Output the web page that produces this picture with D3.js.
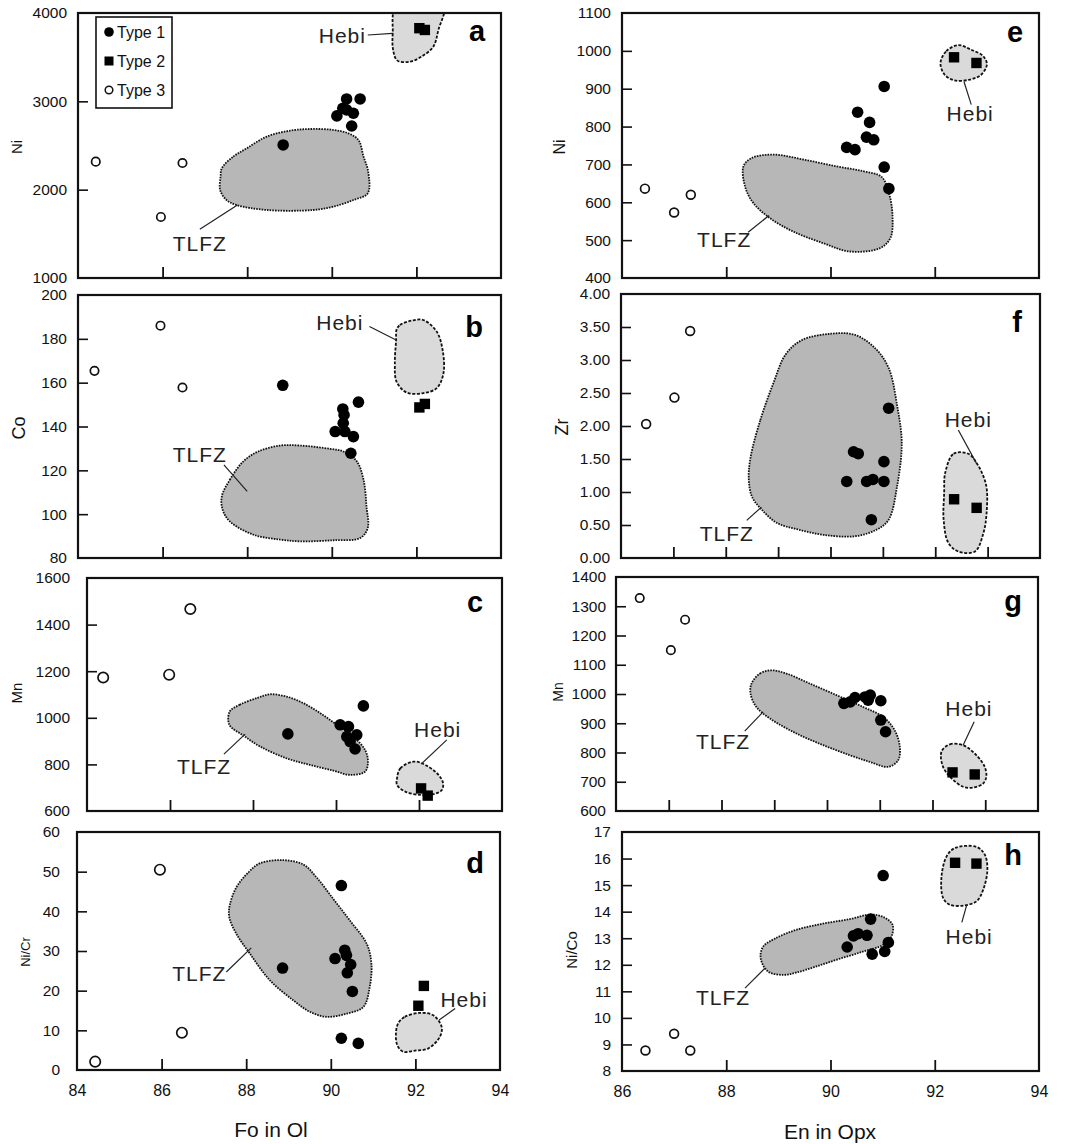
<!DOCTYPE html>
<html><head><meta charset="utf-8">
<script src="https://cdnjs.cloudflare.com/ajax/libs/d3/7.8.5/d3.min.js"></script>
<style>
body{margin:0;background:#fff;}
text{font-family:"Liberation Sans",Arial,Helvetica,sans-serif;fill:#111;}
</style>
</head><body>
<svg id="chart" width="1073" height="1144"></svg>
<script>
// ---------------- DATA ----------------
// x: Fo in Ol (a-d) / En in Opx (e-h)
// Panel a: Ni vs Fo
const aType1 = [[88.85,2506],[90.35,3027],[90.67,3027],[90.12,2835],[90.26,2921],[90.35,2903],[90.51,2865],[90.47,2721]];
const aType2 = [[92.07,3828],[92.20,3808]];
const aType3 = [[84.42,2317],[86.47,2302],[85.96,1691]];
const aTLFZ = [[87.40,2242],[87.67,2374],[87.99,2468],[88.46,2600],[89.01,2668],[89.52,2687],[90.04,2676],[90.39,2638],[90.63,2562],[90.75,2374],[90.86,2204],[90.85,1959],[90.51,1883],[90.04,1808],[89.56,1770],[88.46,1770],[87.75,1826],[87.51,1883],[87.36,1996],[87.37,2147]];
const aHebi = [[91.53,4080],[91.44,3770],[91.45,3581],[91.55,3461],[91.85,3449],[92.12,3506],[92.40,3619],[92.52,3808],[92.64,4080]];
const aNotes = [{text:"TLFZ",at:[86.88,1392],from:[86.88,1551],to:[87.77,1826]},{text:"Hebi",at:[90.25,3751],from:[90.85,3751],to:[91.44,3770]}];

// Panel b: Co vs Fo
const bType1 = [[88.84,158.8],[90.63,151.1],[90.26,148.0],[90.29,145.3],[90.27,141.5],[90.08,137.7],[90.31,137.7],[90.51,135.4],[90.45,127.8]];
const bType2 = [[92.07,148.7],[92.20,150.3]];
const bType3 = [[84.39,165.4],[85.95,186.0],[86.47,157.8]];
const bTLFZ = [[87.40,108.1],[87.59,115.7],[87.91,124.1],[88.26,128.6],[88.78,131.3],[89.25,131.3],[89.96,129.8],[90.27,128.6],[90.59,124.1],[90.75,115.7],[90.82,103.5],[90.85,93.7],[90.67,89.1],[90.04,88.1],[89.25,87.6],[88.78,88.4],[88.15,90.6],[87.59,96.7],[87.42,102.0]];
const bHebi = [[91.53,184.1],[91.61,186.3],[91.89,188.3],[92.16,188.6],[92.48,183.3],[92.62,174.9],[92.64,164.3],[92.48,157.5],[92.16,155.2],[91.77,155.5],[91.53,160.5],[91.49,168.9],[91.52,179.5]];
const bNotes = [{text:"TLFZ",at:[86.88,127.1],from:[87.45,122.5],to:[88.00,110.4]},{text:"Hebi",at:[90.19,187.4],from:[90.89,185.6],to:[91.52,179.5]}];

// Panel c: Mn vs Fo
const cType1 = [[88.84,931],[90.66,1051],[90.10,970],[90.30,962],[90.50,927],[90.26,919],[90.34,898],[90.46,866]];
const cType2 = [[92.05,697],[92.21,666]];
const cType3 = [[84.39,1173],[85.98,1185],[86.49,1467]];
const cTLFZ = [[87.44,1027],[87.68,1056],[88.13,1087],[88.41,1101],[88.81,1091],[89.21,1063],[89.62,1020],[90.02,970],[90.42,919],[90.70,862],[90.77,812],[90.70,769],[90.34,755],[89.94,773],[89.37,798],[88.81,826],[88.17,877],[87.77,924],[87.43,970]];
const cHebi = [[91.47,740],[91.55,783],[91.87,812],[92.15,798],[92.47,755],[92.58,719],[92.55,690],[92.35,672],[92.03,669],[91.67,683],[91.47,712]];
const cNotes = [{text:"TLFZ",at:[86.82,793],from:[87.30,844],to:[87.81,930]},{text:"Hebi",at:[92.45,951],from:[92.67,905],to:[92.05,801]}];

// Panel d: Ni/Cr vs Fo
const dType1 = [[88.86,25.7],[90.25,46.5],[90.10,28.1],[90.33,30.2],[90.37,28.9],[90.47,26.6],[90.39,24.5],[90.51,19.8],[90.25,8.0],[90.65,6.7]];
const dType2 = [[92.20,21.2],[92.07,16.2]];
const dType3 = [[85.96,50.5],[86.48,9.4],[84.43,2.1]];
const dTLFZ = [[87.61,41.5],[87.77,46.1],[88.05,49.8],[88.32,52.1],[88.87,52.9],[89.35,51.8],[89.66,48.6],[90.06,43.1],[90.45,37.7],[90.85,31.8],[90.96,26.8],[90.92,20.9],[90.77,15.9],[90.37,14.2],[89.90,13.4],[89.50,14.7],[89.11,17.6],[88.56,22.6],[88.09,29.3],[87.77,34.3],[87.60,38.5]];
const dHebi = [[91.59,11.7],[91.75,13.4],[92.11,14.4],[92.42,13.8],[92.62,10.9],[92.58,8.4],[92.30,5.4],[91.99,4.9],[91.71,4.6],[91.57,6.3],[91.54,9.2]];
const dNotes = [{text:"TLFZ",at:[86.89,24.3],from:[87.53,24.7],to:[88.12,30.8]},{text:"Hebi",at:[93.15,17.8],from:[92.94,15.5],to:[92.56,12.6]}];

// Panel e: Ni vs En
const eType1 = [[91.03,906],[90.52,838],[90.75,811],[90.69,772],[90.83,765],[90.31,745],[90.47,739],[91.03,693],[91.12,636]];
const eType2 = [[92.37,983],[92.80,968]];
const eType3 = [[86.44,636],[87.00,573],[87.32,620]];
const eTLFZ = [[88.33,695],[88.49,717],[88.90,726],[89.48,713],[90.11,695],[90.63,682],[90.98,667],[91.12,625],[91.19,563],[91.15,506],[90.95,479],[90.37,470],[89.86,492],[89.28,523],[88.84,558],[88.52,598],[88.36,642]];
const eHebi = [[92.11,968],[92.22,999],[92.45,1015],[92.70,1003],[92.93,986],[93.00,964],[92.89,937],[92.67,924],[92.38,922],[92.19,937]];
const eNotes = [{text:"TLFZ",at:[87.96,501],from:[88.42,521],to:[88.82,565]},{text:"Hebi",at:[92.68,836],from:[92.70,858],to:[92.56,919]}];

// Panel f: Zr vs En
const fType1 = [[91.11,2.27],[90.44,1.61],[90.53,1.58],[90.31,1.16],[90.69,1.16],[90.81,1.19],[91.02,1.46],[91.02,1.16],[90.78,0.58]];
const fType2 = [[92.36,0.89],[92.79,0.76]];
const fType3 = [[86.48,2.03],[87.02,2.43],[87.32,3.44]];
const fTLFZ = [[88.47,1.51],[88.66,2.09],[88.91,2.65],[89.14,3.08],[89.45,3.30],[90.03,3.40],[90.47,3.38],[90.85,3.18],[91.11,2.88],[91.27,2.32],[91.36,1.74],[91.27,1.08],[91.11,0.58],[90.88,0.43],[90.47,0.33],[89.87,0.35],[89.39,0.43],[88.98,0.53],[88.69,0.73],[88.50,0.93],[88.44,1.19]];
const fHebi = [[92.19,1.29],[92.35,1.58],[92.63,1.58],[92.79,1.44],[92.97,1.11],[92.98,0.68],[92.92,0.38],[92.76,0.10],[92.44,0.10],[92.25,0.23],[92.16,0.58],[92.17,0.98]];
const fNotes = [{text:"TLFZ",at:[88.02,0.37],from:[88.40,0.57],to:[88.68,0.77]},{text:"Hebi",at:[92.63,2.10],from:[92.44,1.94],to:[92.79,1.43]}];

// Panel g: Mn vs En
const gType1 = [[90.32,968],[90.44,973],[90.53,988],[90.72,990],[90.78,979],[90.82,996],[91.02,977],[91.02,911],[91.11,871]];
const gType2 = [[92.38,732],[92.80,725]];
const gType3 = [[86.45,1328],[87.31,1254],[87.04,1150]];
const gTLFZ = [[88.57,1036],[88.73,1070],[88.95,1081],[89.23,1070],[89.67,1036],[90.18,996],[90.68,956],[91.06,922],[91.28,877],[91.38,820],[91.35,774],[91.16,751],[90.81,768],[90.43,791],[89.93,825],[89.42,865],[88.92,916],[88.66,956],[88.55,1002]];
const gHebi = [[92.17,803],[92.33,828],[92.58,825],[92.83,791],[92.99,751],[93.02,717],[92.96,694],[92.77,680],[92.58,683],[92.36,712],[92.20,751]];
const gNotes = [{text:"TLFZ",at:[88.03,837],from:[88.44,873],to:[88.79,939]},{text:"Hebi",at:[92.69,950],from:[92.79,905],to:[92.58,825]}];

// Panel h: Ni/Co vs En
const hType1 = [[91.01,15.36],[90.77,13.72],[90.32,12.67],[90.44,13.09],[90.53,13.17],[90.70,13.11],[90.80,12.40],[91.04,12.50],[91.11,12.84]];
const hType2 = [[92.39,15.84],[92.80,15.81]];
const hType3 = [[86.45,8.77],[87.00,9.40],[87.31,8.77]];
const hTLFZ = [[88.71,12.69],[88.96,13.01],[89.35,13.32],[89.86,13.55],[90.37,13.72],[90.76,13.89],[91.01,13.80],[91.19,13.51],[91.17,13.07],[91.01,12.75],[90.63,12.50],[90.18,12.23],[89.73,11.94],[89.35,11.71],[89.09,11.62],[88.80,11.75],[88.66,12.25]];
const hHebi = [[92.23,16.09],[92.39,16.40],[92.80,16.44],[92.96,16.15],[93.01,15.58],[92.93,14.83],[92.80,14.39],[92.55,14.23],[92.29,14.26],[92.16,14.52],[92.13,15.33]];
const hNotes = [{text:"TLFZ",at:[87.94,10.78],from:[88.36,11.12],to:[88.74,11.87]},{text:"Hebi",at:[92.66,13.07],from:[92.61,14.23],to:[92.52,13.60]}];

// Axes: domains, tick values, labels
const foDomain = [84, 94];
const enDomain = [86, 94];
const foTicks = [86, 88, 90, 92];
const foTickLabels = [84, 86, 88, 90, 92, 94];
const enTicksE = [88, 90, 92];
const enTicksFG = [87, 88, 89, 90, 91, 92, 93];
const enTicksH = [88, 90, 92];
const enTickLabels = [86, 88, 90, 92, 94];

const aYLabels = [1000, 2000, 3000, 4000];
const bYLabels = [80, 100, 120, 140, 160, 180, 200];
const cYLabels = [600, 800, 1000, 1200, 1400, 1600];
const dYLabels = [0, 10, 20, 30, 40, 50, 60];
const eYLabels = [400, 500, 600, 700, 800, 900, 1000, 1100];
const fYLabels = [0, 0.5, 1, 1.5, 2, 2.5, 3, 3.5, 4];
const gYLabels = [600, 700, 800, 900, 1000, 1100, 1200, 1300, 1400];
const hYLabels = [8, 9, 10, 11, 12, 13, 14, 15, 16, 17];

const legendItems = ["Type 1", "Type 2", "Type 3"];
const xTitles = ["Fo in Ol", "En in Opx"];

// ---------------- LAYOUT ----------------
const panels = [
  {id:"a", L:78, R:501, T:13, B:278, xd:foDomain, yd:[1000,4000], xt:foTicks, xl:null, yl:aYLabels, fmt:d3.format("d"), gap:11, title:"Ni", tx:17, ty:147, tfs:15, lx:477, ly:41, t1:aType1, t2:aType2, t3:aType3, tl:aTLFZ, hb:aHebi, notes:aNotes, r3:4.2},
  {id:"b", L:78, R:501, T:295, B:558, xd:foDomain, yd:[80,200], xt:foTicks, xl:null, yl:bYLabels, fmt:d3.format("d"), gap:11, title:"Co", tx:19, ty:428, tfs:18, lx:474, ly:337, t1:bType1, t2:bType2, t3:bType3, tl:bTLFZ, hb:bHebi, notes:bNotes, r3:4.2},
  {id:"c", L:87, R:502, T:578, B:811, xd:foDomain, yd:[600,1600], xt:foTicks, xl:null, yl:cYLabels, fmt:d3.format("d"), gap:17, title:"Mn", tx:17, ty:693, tfs:15, lx:475, ly:612, t1:cType1, t2:cType2, t3:cType3, tl:cTLFZ, hb:cHebi, notes:cNotes, r3:5.2},
  {id:"d", L:77, R:500, T:832, B:1070, xd:foDomain, yd:[0,60], xt:foTicks, xl:foTickLabels, yl:dYLabels, fmt:d3.format("d"), gap:17, title:"Ni/Cr", tx:25, ty:952, tfs:13, lx:475, ly:873, t1:dType1, t2:dType2, t3:dType3, tl:dTLFZ, hb:dHebi, notes:dNotes, r3:5.2},
  {id:"e", L:622, R:1039, T:13, B:278, xd:enDomain, yd:[400,1100], xt:enTicksE, xl:null, yl:eYLabels, fmt:d3.format("d"), gap:11, title:"Ni", tx:559, ty:147, tfs:16, lx:1015, ly:42, t1:eType1, t2:eType2, t3:eType3, tl:eTLFZ, hb:eHebi, notes:eNotes, r3:4.4},
  {id:"f", L:621, R:1040, T:294, B:558, xd:enDomain, yd:[0,4], xt:enTicksFG, xl:null, yl:fYLabels, fmt:d3.format(".2f"), gap:11, title:"Zr", tx:562, ty:427, tfs:18, lx:1017, ly:332, t1:fType1, t2:fType2, t3:fType3, tl:fTLFZ, hb:fHebi, notes:fNotes, r3:4.4},
  {id:"g", L:616, R:1038, T:577, B:811, xd:enDomain, yd:[600,1400], xt:enTicksFG, xl:null, yl:gYLabels, fmt:d3.format("d"), gap:10, title:"Mn", tx:558, ty:692, tfs:14, lx:1013, ly:611, t1:gType1, t2:gType2, t3:gType3, tl:gTLFZ, hb:gHebi, notes:gNotes, r3:4.2},
  {id:"h", L:622, R:1039, T:832, B:1071, xd:enDomain, yd:[8,17], xt:enTicksH, xl:enTickLabels, yl:hYLabels, fmt:d3.format("d"), gap:11, title:"Ni/Co", tx:572, ty:950, tfs:15, lx:1013, ly:865, t1:hType1, t2:hType2, t3:hType3, tl:hTLFZ, hb:hHebi, notes:hNotes, r3:4.4}
];

const svg = d3.select("#chart");
const defs = svg.append("defs");
const font = '"Liberation Sans",Arial,sans-serif';

panels.forEach(p => {
  const x = d3.scaleLinear().domain(p.xd).range([p.L, p.R]);
  const y = d3.scaleLinear().domain(p.yd).range([p.B, p.T]);
  const g = svg.append("g");

  defs.append("clipPath").attr("id", "clip-" + p.id)
    .append("rect").attr("x", p.L).attr("y", p.T).attr("width", p.R - p.L).attr("height", p.B - p.T);

  const area = g.append("g").attr("clip-path", "url(#clip-" + p.id + ")");
  const line = d3.line().x(d => x(d[0])).y(d => y(d[1])).curve(d3.curveCatmullRomClosed.alpha(0.5));

  area.append("path").attr("d", line(p.tl))
    .attr("fill", "#b7b7b7").attr("stroke", "#111").attr("stroke-width", 1.8)
    .attr("stroke-dasharray", "1.6,1.1");
  area.append("path").attr("d", line(p.hb))
    .attr("fill", "#dadada").attr("stroke", "#111").attr("stroke-width", 1.8)
    .attr("stroke-dasharray", "3,1.6");

  // annotation labels + leader lines
  p.notes.forEach(n => {
    g.append("line")
      .attr("x1", x(n.from[0])).attr("y1", y(n.from[1]))
      .attr("x2", x(n.to[0])).attr("y2", y(n.to[1]))
      .attr("stroke", "#222").attr("stroke-width", 1.2);
    g.append("text").attr("x", x(n.at[0])).attr("y", y(n.at[1]))
      .attr("dy", "0.36em").attr("text-anchor", "middle")
      .style("font-size", "21px").style("letter-spacing", "1px").style("fill", "#222")
      .text(n.text);
  });

  // markers
  area.selectAll(".t3").data(p.t3).join("circle")
    .attr("cx", d => x(d[0])).attr("cy", d => y(d[1])).attr("r", p.r3)
    .attr("fill", "#fff").attr("stroke", "#111").attr("stroke-width", 1.7);
  area.selectAll(".t1").data(p.t1).join("circle")
    .attr("cx", d => x(d[0])).attr("cy", d => y(d[1])).attr("r", 5.8)
    .attr("fill", "#000");
  area.selectAll(".t2").data(p.t2).join("rect")
    .attr("x", d => x(d[0]) - 5.2).attr("y", d => y(d[1]) - 5.2)
    .attr("width", 10.4).attr("height", 10.4).attr("fill", "#000");

  // inward ticks
  const yt = p.yl.slice(1, -1);
  const yTickAxis = g.append("g").attr("transform", `translate(${p.L},0)`)
    .call(d3.axisRight(y).tickValues(yt).tickSize(10).tickFormat(""));
  yTickAxis.select(".domain").remove();
  yTickAxis.selectAll("line").attr("stroke", "#111").attr("stroke-width", 1.6);

  const xTickAxis = g.append("g").attr("transform", `translate(0,${p.B})`)
    .call(d3.axisTop(x).tickValues(p.xt).tickSize(11).tickFormat(""));
  xTickAxis.select(".domain").remove();
  xTickAxis.selectAll("line").attr("stroke", "#111").attr("stroke-width", 1.8);

  // y labels
  const yLab = g.append("g").attr("transform", `translate(${p.L},0)`)
    .call(d3.axisLeft(y).tickValues(p.yl).tickSize(0).tickPadding(p.gap).tickFormat(p.fmt));
  yLab.select(".domain").remove();
  yLab.selectAll("text").style("font-size", "15.5px").style("font-family", font).attr("fill", "#000");

  // x labels
  if (p.xl) {
    const xLab = g.append("g").attr("transform", `translate(0,${p.B})`)
      .call(d3.axisBottom(x).tickValues(p.xl).tickSize(0).tickPadding(15).tickFormat(d3.format("d")));
    xLab.select(".domain").remove();
    xLab.selectAll("text").style("font-size", "16px").style("font-family", font).attr("fill", "#000");
  }

  // frame
  g.append("rect").attr("x", p.L).attr("y", p.T).attr("width", p.R - p.L).attr("height", p.B - p.T)
    .attr("fill", "none").attr("stroke", "#111").attr("stroke-width", 2.2);

  // y title
  g.append("text").attr("transform", `translate(${p.tx},${p.ty}) rotate(-90)`)
    .attr("text-anchor", "middle").attr("dy", "0.35em")
    .style("font-size", p.tfs + "px").text(p.title);

  // panel letter
  g.append("text").attr("x", p.lx).attr("y", p.ly).attr("text-anchor", "middle")
    .style("font-size", "29px").style("font-weight", "bold").style("fill", "#000").text(p.id);
});

// legend (panel a)
const lg = svg.append("g");
lg.append("rect").attr("x", 96).attr("y", 17).attr("width", 76).attr("height", 91)
  .attr("fill", "#fff").attr("stroke", "#111").attr("stroke-width", 1.6);
const ly = d3.scalePoint().domain(legendItems).range([32, 90]);
legendItems.forEach((t, i) => {
  const cy = ly(t);
  if (i === 0) lg.append("circle").attr("cx", 109).attr("cy", cy).attr("r", 4.8).attr("fill", "#000");
  if (i === 1) lg.append("rect").attr("x", 104.5).attr("y", cy - 4.5).attr("width", 9).attr("height", 9).attr("fill", "#000");
  if (i === 2) lg.append("circle").attr("cx", 109).attr("cy", cy).attr("r", 3.8).attr("fill", "#fff").attr("stroke", "#111").attr("stroke-width", 1.5);
  lg.append("text").attr("x", 117).attr("y", cy).attr("dy", "0.36em")
    .style("font-size", "16px").text(t);
});

// x titles
svg.append("text").attr("x", 271).attr("y", 1130).attr("dy", "0.35em").attr("text-anchor", "middle")
  .style("font-size", "21px").text(xTitles[0]);
svg.append("text").attr("x", 830).attr("y", 1132).attr("dy", "0.35em").attr("text-anchor", "middle")
  .style("font-size", "21px").text(xTitles[1]);
</script>
</body></html>
